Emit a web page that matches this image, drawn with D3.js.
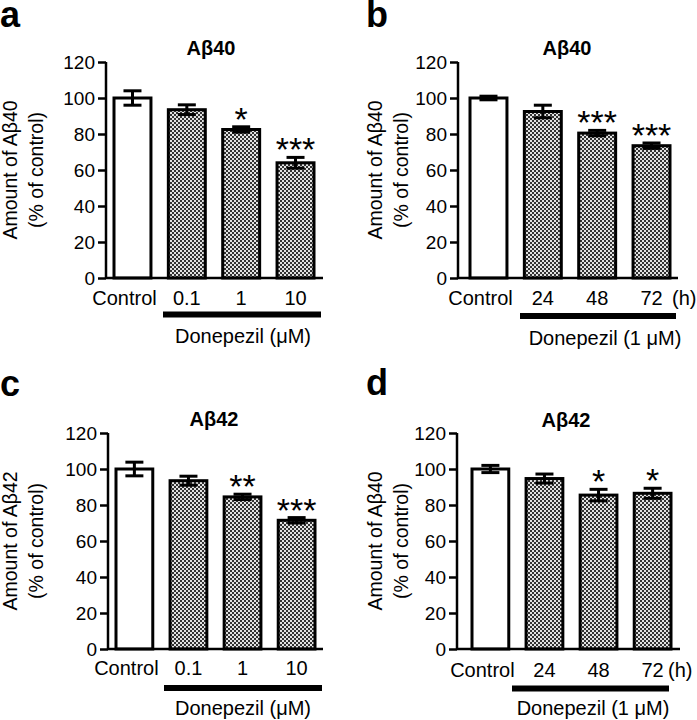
<!DOCTYPE html>
<html>
<head>
<meta charset="utf-8">
<script src="https://cdn.jsdelivr.net/npm/d3@7"></script>
<style>
  html, body { margin: 0; padding: 0; background: #fff; }
  svg { display: block; }
  text { font-family: "Liberation Sans", Arial, Helvetica, sans-serif; fill: #000; }
</style>
</head>
<body>
<svg id="chart" width="697" height="720"></svg>
<script>
// ---------- data ----------
const catsDose = ["Control", "0.1", "1", "10"];
const catsTime = ["Control", "24", "48", "72"];
const yTicks = [0, 20, 40, 60, 80, 100, 120];

const meansA = [100, 93.5, 82.5, 64];
const errsA  = [4, 2.7, 1.5, 3];
const sigA   = ["", "", "*", "***"];

const meansB = [100, 92.5, 80.5, 73.5];
const errsB  = [1, 3.5, 1.5, 1.5];
const sigB   = ["", "", "***", "***"];

const meansC = [100, 93.5, 84.5, 71.5];
const errsC  = [3.8, 2.5, 1.5, 1.5];
const sigC   = ["", "", "**", "***"];

const meansD = [100, 94.7, 85.5, 86.5];
const errsD  = [2, 2.5, 3.2, 2.8];
const sigD   = ["", "", "*", "*"];

// ---------- layout ----------
const panels = [
  { letter: "a", lx: 0, ly: 27, title: "Aβ40", tx: 211, ty: 55,
    yAxisX: 106, axisEnd: 323, yTop: 62, yBot: 278, barRange: [114, 314],
    cats: catsDose, means: meansA, errs: errsA, sig: sigA,
    ylab1: "Amount of Aβ40", yl1x: 17, yl2x: 43, labY: 305, unit: null,
    drugBar: [163, 321, 314.5], drug: "Donepezil (μM)", drugX: 243, drugY: 343 },
  { letter: "b", lx: 366, ly: 27, title: "Aβ40", tx: 567, ty: 55,
    yAxisX: 458, axisEnd: 678, yTop: 62, yBot: 278, barRange: [470, 670],
    cats: catsTime, means: meansB, errs: errsB, sig: sigB,
    ylab1: "Amount of Aβ40", yl1x: 382, yl2x: 408, labY: 305, unit: [672, "(h)"],
    drugBar: [520, 676, 316], drug: "Donepezil (1 μM)", drugX: 605, drugY: 345 },
  { letter: "c", lx: 0, ly: 396, title: "Aβ42", tx: 214, ty: 426,
    yAxisX: 108, axisEnd: 323, yTop: 433, yBot: 649, barRange: [116, 315],
    cats: catsDose, means: meansC, errs: errsC, sig: sigC,
    ylab1: "Amount of Aβ42", yl1x: 17, yl2x: 43, labY: 675, unit: null,
    drugBar: [164, 322, 688], drug: "Donepezil (μM)", drugX: 243, drugY: 715 },
  { letter: "d", lx: 366, ly: 395, title: "Aβ42", tx: 566, ty: 427,
    yAxisX: 457, axisEnd: 680, yTop: 433, yBot: 649, barRange: [472, 671],
    cats: catsTime, means: meansD, errs: errsD, sig: sigD,
    ylab1: "Amount of Aβ40", yl1x: 382, yl2x: 408, labY: 677, unit: [668, "(h)"],
    drugBar: [512, 669, 688.5], drug: "Donepezil (1 μM)", drugX: 593, drugY: 715 }
];

const svg = d3.select("#chart");

// checkerboard pattern
const defs = svg.append("defs");
const pat = defs.append("pattern").attr("id", "checker")
  .attr("patternUnits", "userSpaceOnUse").attr("width", 4).attr("height", 4);
pat.append("rect").attr("width", 4).attr("height", 4).attr("fill", "#e2e2e2");
pat.append("rect").attr("x", 0).attr("y", 0).attr("width", 2).attr("height", 2).attr("fill", "#333");
pat.append("rect").attr("x", 2).attr("y", 2).attr("width", 2).attr("height", 2).attr("fill", "#333");

const FS_TICK = 19, FS_LAB = 20, FS_YLAB = 19.5, FS_TITLE = 20;

panels.forEach(p => {
  const g = svg.append("g");

  const x = d3.scaleBand().domain(p.cats).range(p.barRange)
    .paddingInner(0.32).paddingOuter(0);
  const y = d3.scaleLinear().domain([0, 120]).range([p.yBot, p.yTop]);

  // panel letter
  g.append("text").attr("x", p.lx).attr("y", p.ly)
    .attr("font-size", 36).attr("font-weight", "bold").text(p.letter);

  // title
  g.append("text").attr("x", p.tx).attr("y", p.ty).attr("text-anchor", "middle")
    .attr("font-size", FS_TITLE).attr("font-weight", "bold").text(p.title);

  // y axis
  const yAxis = d3.axisLeft(y).tickValues(yTicks).tickSize(8).tickPadding(3);
  const ya = g.append("g").attr("transform", `translate(${p.yAxisX},0)`).call(yAxis);
  ya.select(".domain").attr("stroke", "#000").attr("stroke-width", 2.5)
    .attr("d", `M0,${p.yBot}V${p.yTop}`);
  ya.selectAll(".tick line").attr("stroke", "#000").attr("stroke-width", 2.5);
  ya.selectAll(".tick text").attr("font-size", FS_TICK).attr("fill", "#000")
    .attr("font-family", "Liberation Sans, Arial, sans-serif");

  // y labels
  const cy = (p.yTop + p.yBot) / 2;
  g.append("text").attr("transform", `translate(${p.yl1x},${cy}) rotate(-90)`)
    .attr("text-anchor", "middle").attr("font-size", FS_YLAB).text(p.ylab1);
  g.append("text").attr("transform", `translate(${p.yl2x},${cy}) rotate(-90)`)
    .attr("text-anchor", "middle").attr("font-size", FS_YLAB).text("(% of control)");

  // bars
  g.selectAll("rect.bar").data(p.means).enter().append("rect")
    .attr("class", "bar")
    .attr("x", (d, i) => x(p.cats[i]))
    .attr("width", x.bandwidth())
    .attr("y", d => y(d))
    .attr("height", d => y(0) - y(d))
    .attr("fill", (d, i) => i === 0 ? "#fff" : "url(#checker)")
    .attr("stroke", "#000").attr("stroke-width", 3);

  // error bars
  const capW = 18;
  p.means.forEach((m, i) => {
    const cx = x(p.cats[i]) + x.bandwidth() / 2;
    const e = p.errs[i];
    g.append("line").attr("x1", cx).attr("x2", cx)
      .attr("y1", y(m - e)).attr("y2", y(m + e))
      .attr("stroke", "#000").attr("stroke-width", 3);
    [m - e, m + e].forEach(v => {
      g.append("line").attr("x1", cx - capW / 2).attr("x2", cx + capW / 2)
        .attr("y1", y(v)).attr("y2", y(v))
        .attr("stroke", "#000").attr("stroke-width", 3);
    });
    if (p.sig[i]) {
      g.append("text").attr("x", cx).attr("y", y(m + e) + 4)
        .attr("text-anchor", "middle").attr("font-size", 34)
        .text(p.sig[i]);
    }
  });

  // x axis line
  g.append("line").attr("x1", p.yAxisX).attr("x2", p.axisEnd)
    .attr("y1", p.yBot).attr("y2", p.yBot)
    .attr("stroke", "#000").attr("stroke-width", 2.5);

  // x labels
  const xAxis = d3.axisBottom(x).tickSize(0).tickPadding(0);
  const xa = g.append("g").attr("transform", `translate(0,${p.labY})`).call(xAxis);
  xa.select(".domain").remove();
  xa.selectAll(".tick text").attr("font-size", FS_LAB).attr("fill", "#000")
    .attr("dy", 0).attr("y", 0)
    .attr("font-family", "Liberation Sans, Arial, sans-serif")
    .attr("dx", (d, i) => i === 0 ? -8 : 0);

  if (p.unit) {
    g.append("text").attr("x", p.unit[0]).attr("y", p.labY)
      .attr("font-size", FS_LAB).text(p.unit[1]);
  }

  // drug bar
  g.append("line").attr("x1", p.drugBar[0]).attr("x2", p.drugBar[1])
    .attr("y1", p.drugBar[2]).attr("y2", p.drugBar[2])
    .attr("stroke", "#000").attr("stroke-width", 6);
  g.append("text").attr("x", p.drugX).attr("y", p.drugY).attr("text-anchor", "middle")
    .attr("font-size", FS_LAB).text(p.drug);
});
</script>
</body>
</html>
